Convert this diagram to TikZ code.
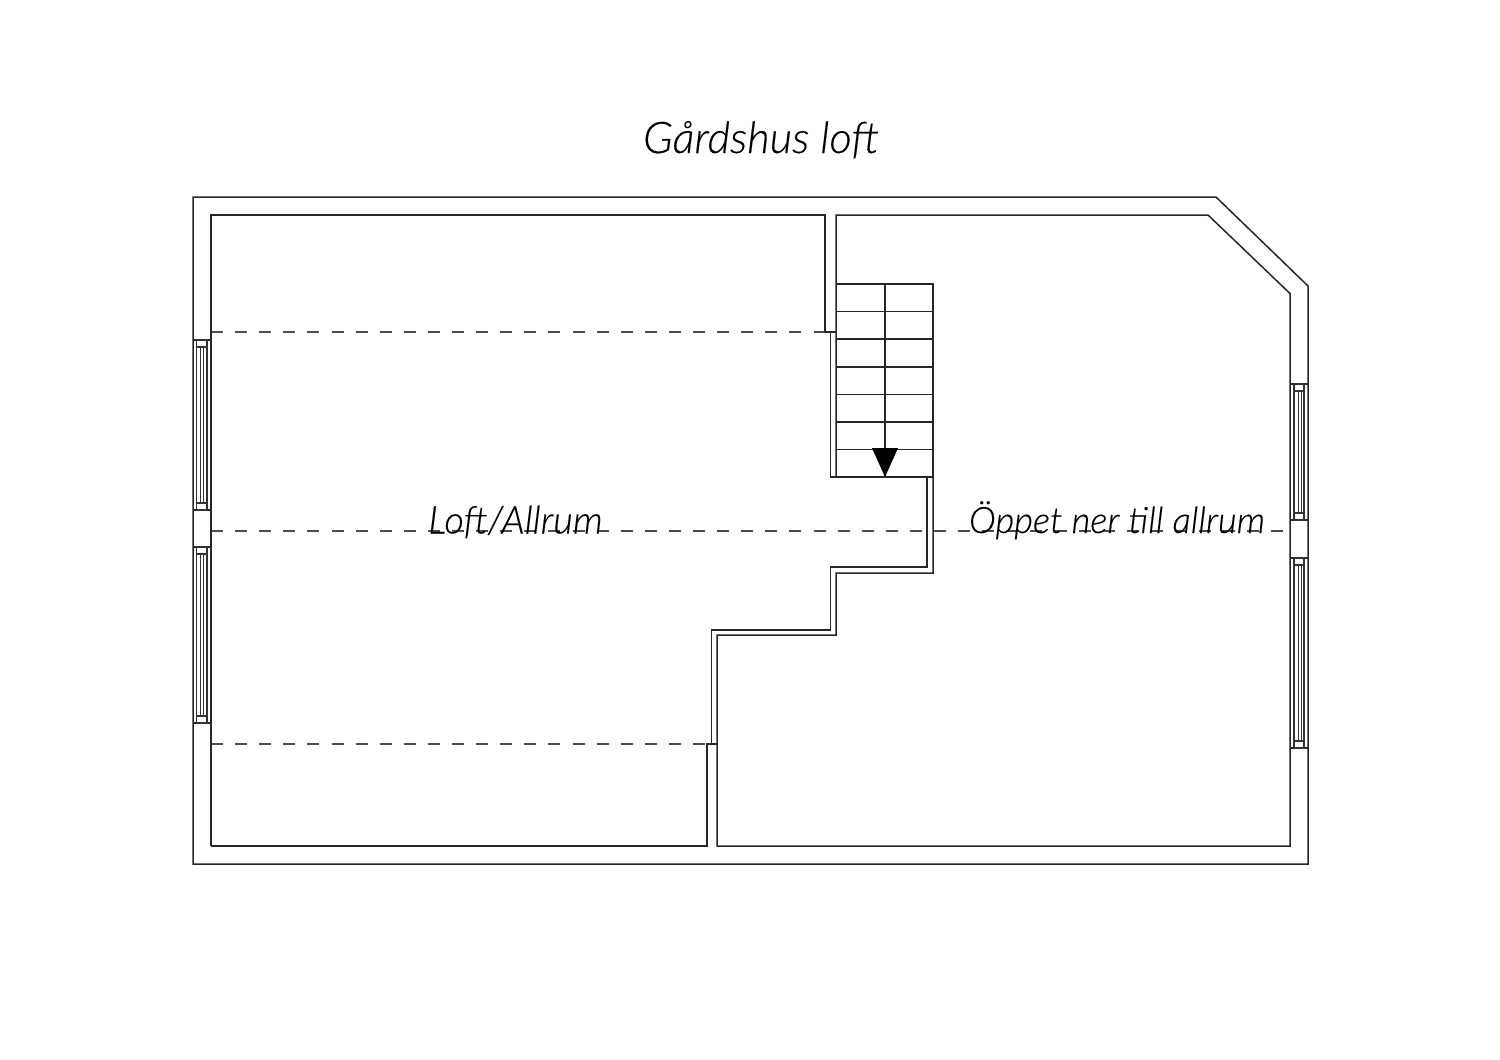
\documentclass[tikz,border=0pt]{standalone}
\usepackage{fontspec}
\newfontfamily\labfont{Lato Light Italic}[FakeBold=0.25]
\tikzset{
  wall/.style={draw=black!85,line width=1.5pt,line join=miter},
  thin wall/.style={draw=black!80,line width=1.1pt},
  dashline/.style={draw=black!70,line width=1.3pt,dash pattern=on 12.05pt off 12.05pt},
  lab/.style={inner sep=0pt,text=black,anchor=base}
}
\newcommand{\leftwin}[2]{%
  \draw[wall] (193,#1) -- (211,#1) (193,#2) -- (211,#2);
  \draw[thin wall] (196.7,#1) rectangle (207,#2);
  \draw[thin wall] (196.7,#1+7) -- (207,#1+7) (196.7,#2-7) -- (207,#2-7);
  \draw[thin wall] (200.5,#1+7) -- (200.5,#2-7) (203.5,#1+7) -- (203.5,#2-7);
}
\newcommand{\rightwin}[2]{%
  \draw[wall] (1290,#1) -- (1308,#1) (1290,#2) -- (1308,#2);
  \draw[thin wall] (1294,#1) rectangle (1304,#2);
  \draw[thin wall] (1294,#1+7) -- (1304,#1+7) (1294,#2-7) -- (1304,#2-7);
  \draw[thin wall] (1298.5,#1+7) -- (1298.5,#2-7) (1301.5,#1+7) -- (1301.5,#2-7);
}
\begin{document}
\begin{tikzpicture}[x=1pt,y=-1pt]
\useasboundingbox (0,0) rectangle (1500,1060);
% dashed ceiling lines
\draw[dashline] (211,332) -- (825.5,332);
\draw[dashline] (211,531) -- (1284.5,531);
\draw[dashline] (211,744) -- (705,744);
% outer wall
\draw[wall] (193,197) -- (1216,197) -- (1308,286) -- (1308,864) -- (193,864) -- cycle;
% left room inner outline
\draw[wall] (211,846) -- (211,215) -- (825,215) -- (825,332);
\draw[wall] (825,332) -- (836,332);
\draw[wall] (211,846) -- (707,846) -- (707,744) -- (717,744);
% inner edge of partition, stair side
\draw[wall] (830.4,332) -- (830.4,477) -- (933,477);
\draw[wall] (927,477) -- (927,567) -- (830.4,567) -- (830.4,630) -- (711.4,630) -- (711.4,744);
\draw[wall] (933,477) -- (933,573) -- (836,573) -- (836,635) -- (717,635) -- (717,846) -- (1290,846) -- (1290,293.5) -- (1208,215) -- (836,215) -- (836,477);
% stairs
\draw[wall] (836,284) -- (933,284) -- (933,477);
\draw[wall] (885,284) -- (885,477);
\foreach \yy in {311.6,339.2,366.8,394.4,422,449.6}{\draw[wall] (836,\yy) -- (933,\yy);}
\fill[black] (872,448) -- (898,448) -- (885,477) -- cycle;
% windows
\leftwin{340}{510}
\leftwin{547}{723}
\rightwin{384}{520}
\rightwin{558}{748}
% text
\node[lab,font=\labfont\fontsize{43.6}{48}\selectfont] (title) at (761,153) {Gårdshus loft};
\node[lab,font=\labfont\fontsize{38.2}{42}\selectfont] (loft) at (515.5,533.5) {Loft/Allrum};
\node[lab,font=\labfont\fontsize{36.4}{40}\selectfont] (open) at (1117,533) {Öppet ner till allrum};
\end{tikzpicture}
\end{document}
